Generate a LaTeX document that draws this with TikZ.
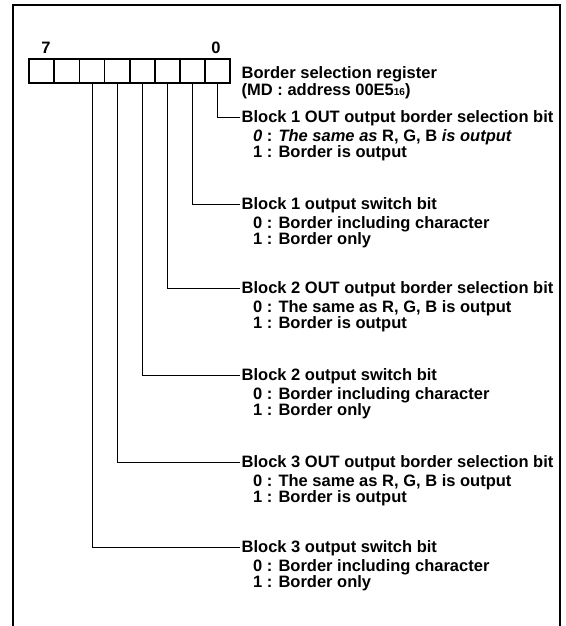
\documentclass[tikz,border=0pt]{standalone}
\usepackage{fontspec}
\setmainfont{Liberation Sans}
\newcommand{\fs}{\fontsize{16.5}{17}\selectfont\bfseries}
\begin{document}
\begin{tikzpicture}[x=1pt,y=-1pt,
  txt/.style={anchor=base west, inner sep=0pt, font=\fs},
  bitlabel/.style={inner sep=0pt, font=\fs},
  bitbox/.style={draw, line width=1.8pt, minimum width=25.1pt, minimum height=24pt, inner sep=0pt},
  conn/.style={line width=0.8pt},
  frame/.style={line width=2.5pt}]
\useasboundingbox (0,0) rectangle (565,626);
\draw[frame] (13,630) -- (13,5) -- (560,5) -- (560,630);
% register
\foreach \i in {0,...,7} \node[bitbox] (b\i) at ({230-25.1*(\i+0.5)},71) {};
\node[bitlabel] (l7) at (46,48) {7};
\node[bitlabel] (l0) at (216,48) {0};
\node[txt] (t1) at (241.5,78) {Border selection register};
\node[txt] (t2) at (241.5,95.5) {(MD : address 00E5{\fontsize{10}{10}\selectfont 16})};
% entries
\node[txt] (e1) at (241.5,122.5) {Block 1 OUT output border selection bit};
\node[txt] (e1a) at (253,141.5) {\textit{0} : \textit{The same as} R, G, B \textit{is output}};
\node[txt] (e1b) at (253,157.5) {1 : Border is output};

\node[txt] (e2) at (241.5,209.5) {Block 1 output switch bit};
\node[txt] (e2a) at (253,228.5) {0 : Border including character};
\node[txt] (e2b) at (253,244.5) {1 : Border only};

\node[txt] (e3) at (241.5,293.5) {Block 2 OUT output border selection bit};
\node[txt] (e3a) at (253,312.5) {0 : The same as R, G, B is output};
\node[txt] (e3b) at (253,328.5) {1 : Border is output};

\node[txt] (e4) at (241.5,380.5) {Block 2 output switch bit};
\node[txt] (e4a) at (253,399.5) {0 : Border including character};
\node[txt] (e4b) at (253,415.5) {1 : Border only};

\node[txt] (e5) at (241.5,467.5) {Block 3 OUT output border selection bit};
\node[txt] (e5a) at (253,486.5) {0 : The same as R, G, B is output};
\node[txt] (e5b) at (253,502.5) {1 : Border is output};

\node[txt] (e6) at (241.5,552.5) {Block 3 output switch bit};
\node[txt] (e6a) at (253,571.5) {0 : Border including character};
\node[txt] (e6b) at (253,587.5) {1 : Border only};
% connectors
\foreach \b/\e in {0/1,1/2,2/3,3/4,4/5,5/6}
  \draw[conn] (b\b.south) |- ([shift={(-1.5pt,5.5pt)}]e\e.base west);
\end{tikzpicture}
\end{document}
